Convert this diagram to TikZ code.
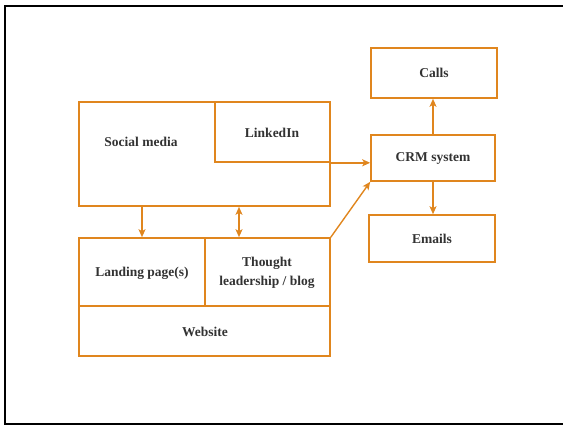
\documentclass[tikz,border=0pt]{standalone}
\usepackage{fontspec}
\setmainfont{Liberation Serif}
\usetikzlibrary{arrows.meta}
\definecolor{org}{RGB}{224,134,30}
\definecolor{txt}{RGB}{50,50,50}
\begin{document}
\begin{tikzpicture}[x=1pt,y=-1pt,
  box/.style={draw=org,line width=1.6pt,rectangle,inner sep=0pt},
  lbl/.style={font=\fontsize{13.5}{19}\selectfont\bfseries,text=txt,align=center},
  arr/.style={draw=org,line width=1.4pt,-{Stealth[length=8pt,width=7pt,inset=2pt]}},
  dbl/.style={draw=org,line width=1.4pt,{Stealth[length=8pt,width=7pt,inset=2pt]}-{Stealth[length=8pt,width=7pt,inset=2pt]}}]
\useasboundingbox (0,0) rectangle (563,426);
\draw[line width=1.6pt,black] (563,6) -- (5,6) -- (5,424) -- (563,424);
% boxes
\node[box,minimum width=251pt,minimum height=104pt] (social) at (204.5,154) {};
\node[box,minimum width=115pt,minimum height=60pt] (linkedin) at (272.5,132) {};
\node[box,minimum width=126pt,minimum height=68pt] (landing) at (142,272) {};
\node[box,minimum width=125pt,minimum height=68pt] (thought) at (267.5,272) {};
\node[box,minimum width=251pt,minimum height=50pt] (website) at (204.5,331) {};
\node[box,minimum width=126pt,minimum height=50pt] (calls) at (434,73) {};
\node[box,minimum width=124pt,minimum height=46pt] (crm) at (433,158) {};
\node[box,minimum width=126pt,minimum height=47pt] (emails) at (432,238.5) {};
% labels
\node[lbl] (socialtxt) at (141,142) {Social media};
\node[lbl] (linkedintxt) at (272,133) {LinkedIn};
\node[lbl] (landingtxt) at (142,273) {Landing page(s)};
\node[lbl] (thoughttxt) at (267,273) {Thought\\leadership / blog};
\node[lbl] (websitetxt) at (205,332) {Website};
\node[lbl] (callstxt) at (434,73) {Calls};
\node[lbl] (crmtxt) at (433,158) {CRM system};
\node[lbl] (emailstxt) at (432,239) {Emails};
% connectors
\coordinate (dx) at (239,0);
\draw[arr] (landing.north |- social.south) -- (landing.north);
\draw[dbl] (social.south -| dx) -- (thought.north -| dx);
\draw[arr] (linkedin.south east) -- (linkedin.south east -| crm.west);
\draw[arr] (thought.north east) -- (crm.south west);
\draw[arr] (crm.north) -- (crm.north |- calls.south);
\draw[arr] (crm.south) -- (crm.south |- emails.north);
\end{tikzpicture}
\end{document}
